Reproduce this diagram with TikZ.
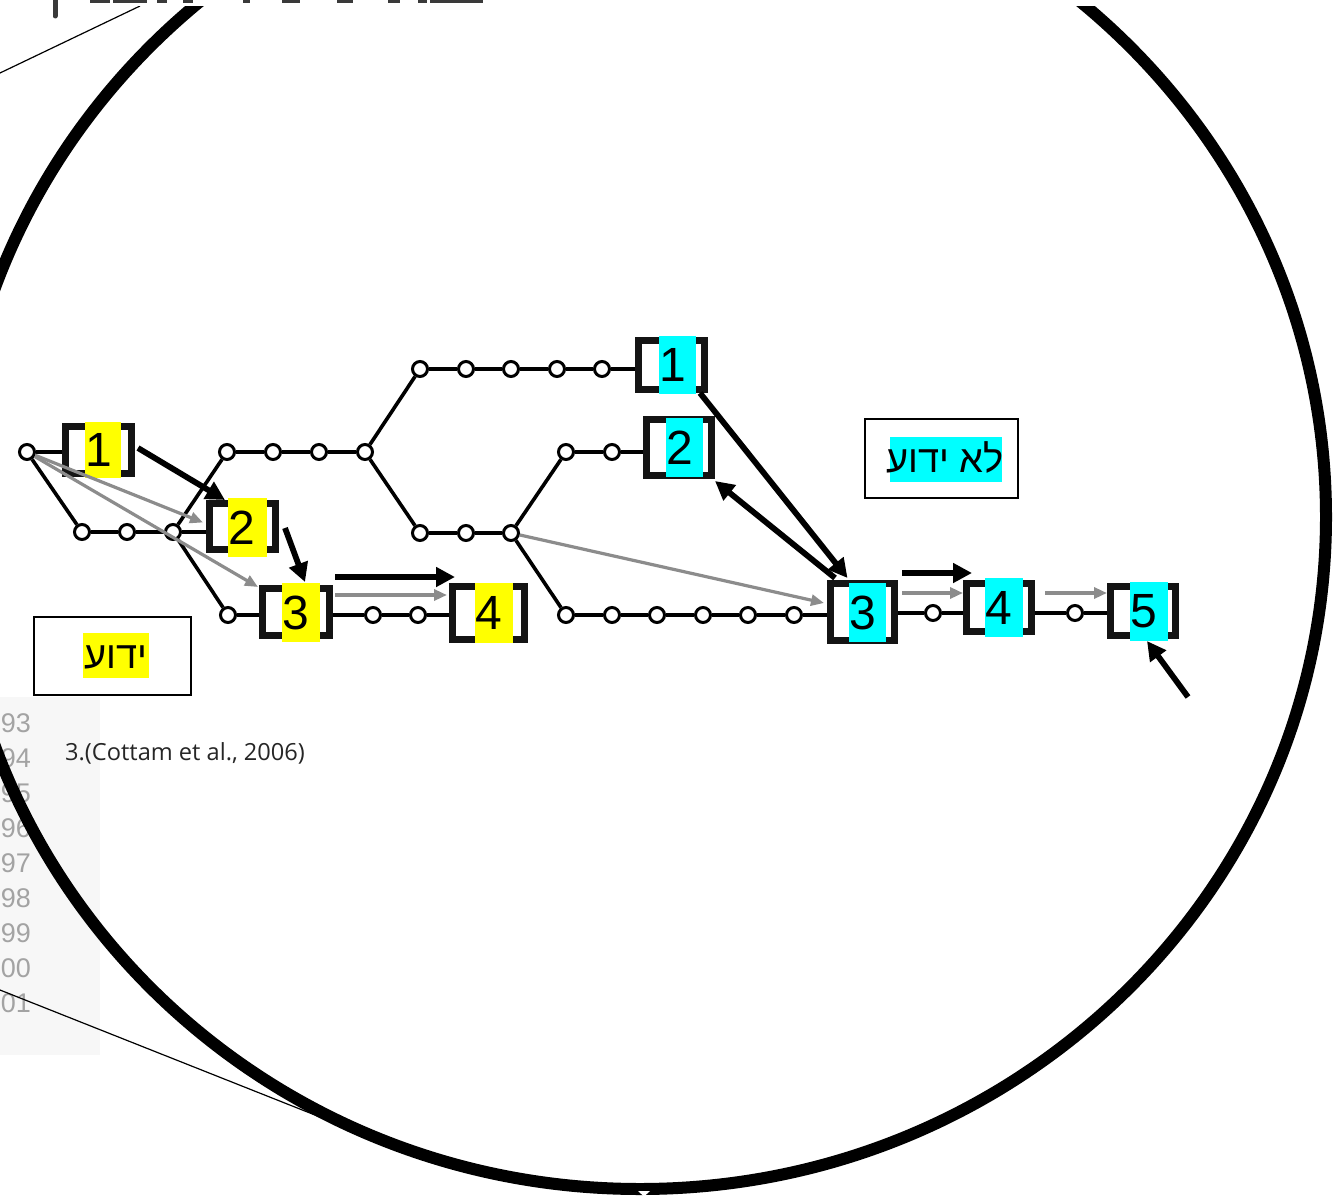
\documentclass[tikz,border=0pt]{standalone}
\usepackage{fontspec}
\setmainfont{Liberation Sans}
\newfontfamily\hebfont[Script=Hebrew]{Liberation Sans}
\newfontfamily\citefont{Open Sans}
\TeXXeTstate=1
\usetikzlibrary{arrows.meta}
\definecolor{hlyellow}{HTML}{FFFF00}
\definecolor{hlcyan}{HTML}{00FFFF}
\definecolor{arrowgrey}{HTML}{8C8C8C}
\definecolor{numgrey}{HTML}{A3A3A3}
\definecolor{colbg}{HTML}{F7F7F7}
\definecolor{titlegrey}{HTML}{3A3A3A}
\definecolor{citegrey}{HTML}{262626}
\tikzset{
  dot/.style={circle, draw=black, fill=white, line width=3pt, minimum size=15pt, inner sep=0pt},
  gline/.style={line width=3.6pt, black},
  bbox/.style={draw=black!92, fill=white, line width=7pt, inner sep=0pt},
  hl/.style={fill=#1, inner sep=0pt},
  digit/.style={font=\fontsize{48}{50}\selectfont, inner sep=0pt, anchor=west},
  blackarrow/.style={line width=5.8pt, -{Triangle[length=19pt,width=19pt]}},
  greyarrow/.style={arrowgrey, line width=3.2pt, -{Triangle[length=13pt,width=11pt]}},
  labelbox/.style={draw=black, line width=2pt, fill=white, inner sep=0pt},
  hebtext/.style={font={\hebfont\fontsize{38}{40}\selectfont}, inner sep=0pt, anchor=base},
  numtext/.style={font=\fontsize{27}{30}\selectfont, text=numgrey, inner sep=0pt, anchor=base east},
  magline/.style={black, line width=1.2pt},
}
\begin{document}
\begin{tikzpicture}[x=1pt,y=-1pt]
\useasboundingbox (0,0) rectangle (1333,1196);
\clip (0,0) rectangle (1333,1196);
\fill[white] (0,0) rectangle (1333,1196);

% line-number strip
\fill[colbg] (0,697) rectangle (100,1055);
\foreach \t/\yb [count=\i] in {93/732,94/767,95/802,96/837,97/872,98/907,99/942,00/977,01/1012}
  \node[numtext] (num\i) at (31,\yb) {\t};

% small circles
\foreach \n/\x/\y in {a0/27/452, b1/82/532, b2/127/532, b3/173/532,
  r1/227/452, r2/273/452, r3/319/452, r4/365/452,
  t1/420/369, t2/466/369, t3/511/369, t4/557/369, t5/602/369,
  m1/420/533, m2/466/533, m3/511/533, u1/566/452, u2/612/452,
  l0/228/615, l1/373/615, l2/418/615,
  d1/566/615, d2/612/615, d3/657/615, d4/703/615, d5/748/615, d6/794/615,
  e1/933/613, e2/1075/613}
  \node[dot] (\n) at (\x,\y) {};

% bracket boxes
\foreach \n/\x/\y/\w/\h in {K1/98.5/450/66/47, K2/242.5/526.5/66/46, K3/296/612/67/47,
  K4/488.5/613/72/53, U1/671.5/365/66/49, U2/679/447.5/65/56, U3/862.5/612/64/57,
  U4/999/607.5/65/48, U5/1143/611/65/49}
  \node[bbox, minimum width=\w pt, minimum height=\h pt] (\n) at (\x,\y) {};

% highlights and digits
\foreach \n/\x/\y/\w/\h/\c/\d in {K1/103/450/36/56/hlyellow/1, K2/247.5/527.5/39/59/hlyellow/2,
  K3/301/612.5/38/59/hlyellow/3, K4/494/613/38/60/hlyellow/4,
  U1/677.5/365/37/58/hlcyan/1, U2/684.5/447.5/37/59/hlcyan/2, U3/867.5/612.5/37/59/hlcyan/3,
  U4/1004/607.5/38/59/hlcyan/4, U5/1149/611.5/38/59/hlcyan/5}
  {\node[hl=\c, minimum width=\w pt, minimum height=\h pt] (\n-hl) at (\x,\y) {};
   \node[digit] (\n-num) at (\n-hl.west) {\d};}

% graph lines between circles
\foreach \p/\q in {a0/b1, b1/b2, b2/b3, b3/r1, b3/l0, r1/r2, r2/r3, r3/r4,
  r4/t1, t1/t2, t2/t3, t3/t4, t4/t5, r4/m1, m1/m2, m2/m3, m3/u1, u1/u2,
  m3/d1, d1/d2, d2/d3, d3/d4, d4/d5, d5/d6, l1/l2}
  \draw[gline] (\p) -- (\q);
% graph lines to boxes
\draw[gline] (a0) -- (a0 -| K1.west);
\draw[gline] (b3) -- (b3 -| K2.west);
\draw[gline] (l0) -- (l0 -| K3.west);
\draw[gline] (l1 -| K3.east) -- (l1);
\draw[gline] (l2) -- (l2 -| K4.west);
\draw[gline] (t5) -- (t5 -| U1.west);
\draw[gline] (u2) -- (u2 -| U2.west);
\draw[gline] (d6) -- (d6 -| U3.west);
\draw[gline] (e1 -| U3.east) -- (e1);
\draw[gline] (e1) -- (e1 -| U4.west);
\draw[gline] (e2 -| U4.east) -- (e2);
\draw[gline] (e2) -- (e2 -| U5.west);

% grey arrows
\draw[greyarrow] (a0) -- ([shift={(-3,-4)}]K2.west);
\draw[greyarrow] (a0) -- ([shift={(-1,-25)}]K3.west);
\draw[greyarrow] ([shift={(2,-17)}]K3.east) -- ([shift={(-2,-18)}]K4.west);
\draw[greyarrow] (m3) -- ([shift={(-3,-9)}]U3.west);
\draw[greyarrow] ([shift={(4,-19)}]U3.east) -- ([shift={(0,-14.5)}]U4.west);
\draw[greyarrow] ([shift={(10,-14.5)}]U4.east) -- ([shift={(0,-18)}]U5.west);

% black arrows
\draw[blackarrow] ([shift={(3,-2)}]K1.east) -- ([shift={(-17.5,0)}]K2.north);
\draw[blackarrow] ([shift={(6,1.5)}]K2.east) -- ([shift={(9,-3)}]K3.north);
\draw[blackarrow] ([shift={(2,-8)}]K3.north east) -- ([shift={(6,-6)}]K4.north west);
\draw[blackarrow] ([shift={(-8,0)}]U1.south east) -- ([shift={(-15,-2)}]U3.north);
\draw[blackarrow] ([shift={(8,-2)}]U3.north west) -- ([shift={(0,2)}]U2.south east);
\draw[blackarrow] ([shift={(4,-7)}]U3.north east) -- ([shift={(9,-7)}]U4.north west);
\coordinate (tail5) at (1188,697);
\draw[blackarrow] (tail5) -- ([shift={(4,2)}]U5.south);

% label boxes
\node[labelbox, minimum width=157pt, minimum height=78pt] (known) at (112.5,656) {};
\node[hl=hlyellow, minimum width=66pt, minimum height=45pt] (known-hl) at (116,655.5) {};
\node[hebtext] (known-txt) at (116,668) {\beginR ידוע\endR};
\node[labelbox, minimum width=153pt, minimum height=79pt] (unknown) at (941.5,458.5) {};
\node[hl=hlcyan, minimum width=112pt, minimum height=45pt] (unknown-hl) at (946,459.5) {};
\node[hebtext] (unknown-txt) at (945,472) {\beginR לא ידוע\endR};

% citation
\node[font={\citefont\fontsize{23.6}{26}\selectfont}, text=citegrey, inner sep=0pt, anchor=base west] (cite) at (65,760) {3.(Cottam et al., 2006)};

% magnifier connector lines
\coordinate (mt0) at (0,73);
\coordinate (mt1) at (140,6);
\coordinate (mb0) at (0,990);
\coordinate (mb1) at (320,1117);
\draw[magline] (mt0) -- (mt1);
\draw[magline] (mb0) -- (mb1);

% magnifier ellipse
\draw[black, line width=12pt] (640,517) ellipse [x radius=686pt, y radius=672pt];
\fill[white] (638,1191) -- (650,1191) -- (644,1196.5) -- cycle;

% top band with cropped title
\fill[white] (0,0) rectangle (1333,6);
\foreach \xa/\xb in {90/110, 113/147, 157/167, 183/193, 243/250, 282/300, 337/353, 388/400, 418/427, 430/483}
  \fill[titlegrey] (\xa,0) rectangle (\xb,3.5);
\draw[titlegrey, line width=5pt, line cap=round] (55,-5) -- (55,16);
\end{tikzpicture}
\end{document}
